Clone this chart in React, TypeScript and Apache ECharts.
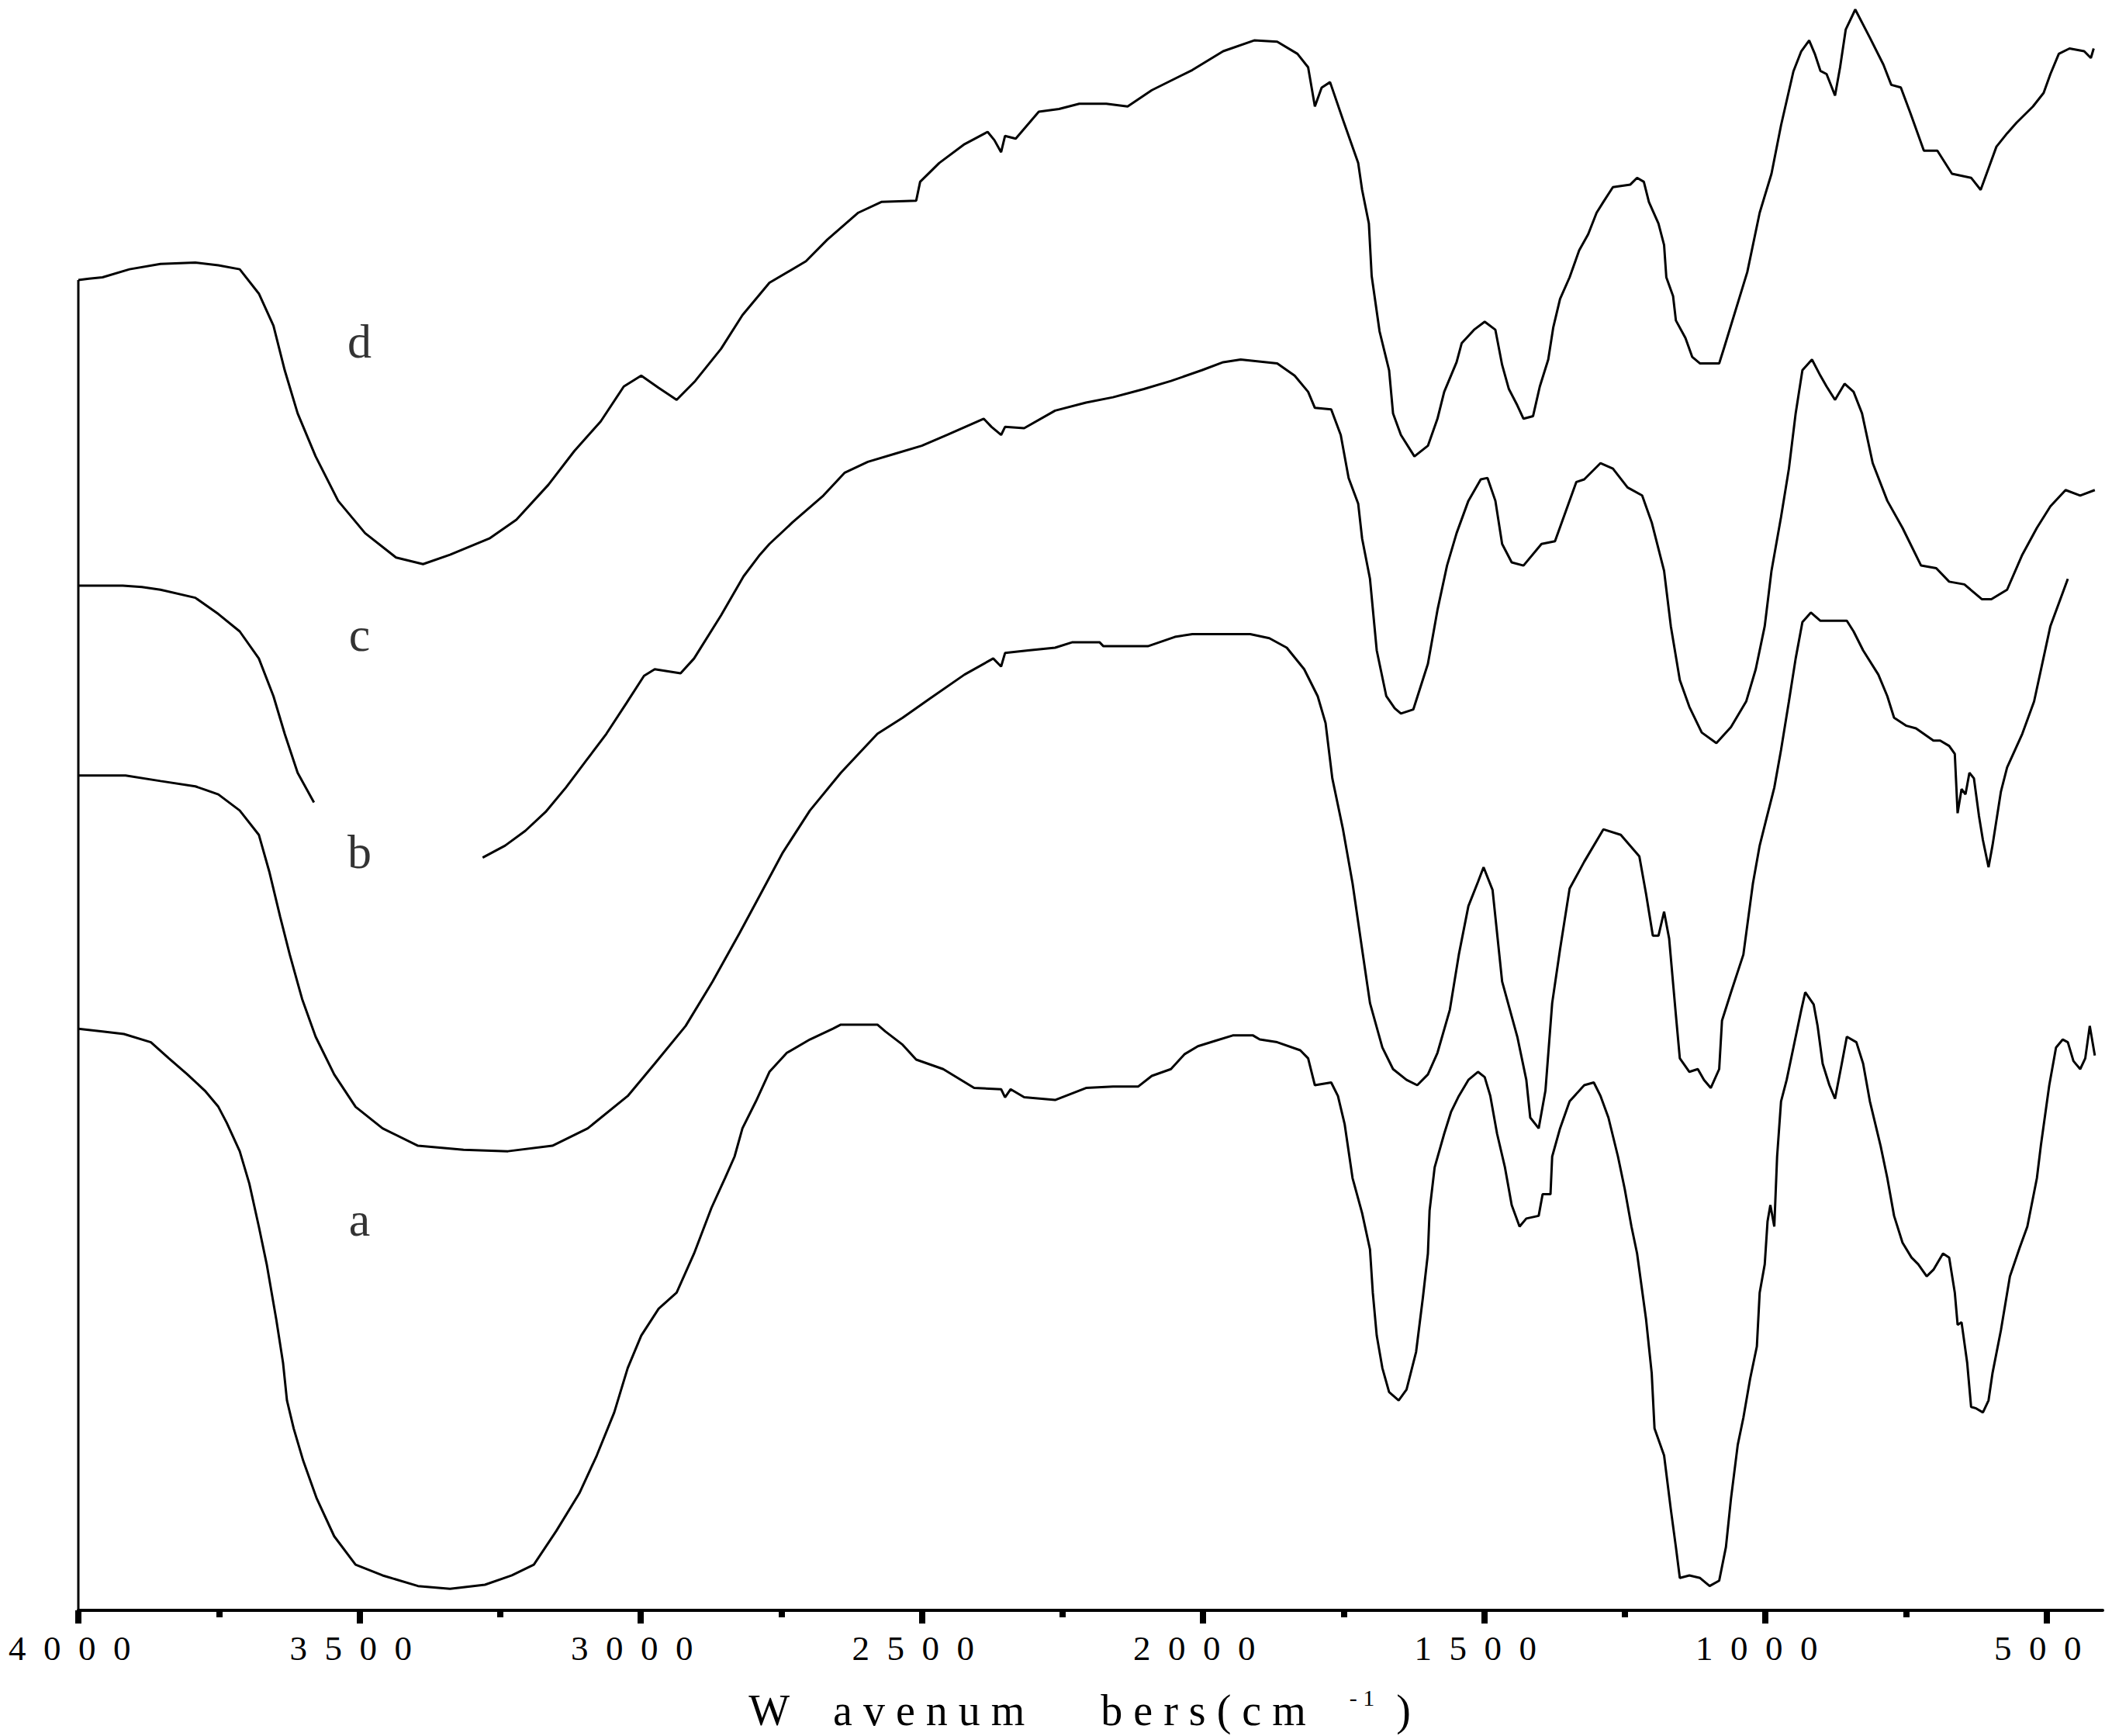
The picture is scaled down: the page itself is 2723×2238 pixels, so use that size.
import React, { useEffect, useRef } from 'react';
import * as echarts from 'echarts';

// Axis ticks (cm-1)
const majorTicks = [4000, 3500, 3000, 2500, 2000, 1500, 1000, 500];
const minorTicks = [3750, 3250, 2750, 2250, 1750, 1250, 750];

// Spectra: [wavenumber (cm-1), relative transmittance (a.u., offset)]
const curveD: [number, number][] = [
  [4000, 82.61], [3981, 82.69], [3957, 82.78], [3909, 83.28], [3854, 83.61], [3792, 83.7], [3751, 83.53], [3713, 83.28],
  [3679, 81.77], [3653, 79.77], [3633, 77.01], [3610, 74.33], [3578, 71.66], [3538, 68.9], [3490, 66.89], [3435, 65.38],
  [3387, 64.97], [3339, 65.55], [3269, 66.56], [3221, 67.73], [3164, 69.9], [3118, 71.99], [3071, 73.83], [3030, 76.0],
  [2999, 76.67], [2968, 75.92], [2936, 75.17], [2903, 76.34], [2857, 78.34], [2819, 80.43], [2771, 82.44], [2706, 83.78],
  [2668, 85.12], [2613, 86.79], [2572, 87.46], [2510, 87.54], [2503, 88.71], [2469, 89.88], [2424, 91.05], [2383, 91.81],
  [2371, 91.3], [2359, 90.55], [2352, 91.56], [2333, 91.39], [2292, 93.06], [2256, 93.23], [2220, 93.56], [2172, 93.56],
  [2134, 93.39], [2091, 94.4], [2019, 95.65], [1964, 96.82], [1909, 97.49], [1868, 97.41], [1832, 96.66], [1813, 95.82],
  [1801, 93.39], [1789, 94.56], [1774, 94.9], [1751, 92.56], [1724, 89.88], [1717, 88.21], [1705, 86.12], [1700, 82.86],
  [1686, 79.43], [1669, 77.01], [1662, 74.33], [1648, 72.99], [1624, 71.66], [1600, 72.32], [1583, 74.0], [1571, 75.67],
  [1549, 77.51], [1540, 78.68], [1518, 79.52], [1499, 80.02], [1480, 79.52], [1468, 77.34], [1456, 75.84], [1441, 74.83],
  [1430, 74.0], [1413, 74.16], [1401, 76.0], [1386, 77.67], [1377, 79.68], [1365, 81.44], [1348, 82.78], [1331, 84.45],
  [1315, 85.45], [1300, 86.79], [1288, 87.46], [1271, 88.38], [1240, 88.54], [1228, 88.96], [1216, 88.71], [1207, 87.46],
  [1190, 86.12], [1180, 84.78], [1176, 82.78], [1164, 81.61], [1159, 80.1], [1142, 79.01], [1130, 77.84], [1116, 77.43],
  [1082, 77.43], [1073, 78.43], [1032, 83.11], [1010, 86.79], [989, 89.21], [972, 92.22], [950, 95.57], [936, 96.82],
  [922, 97.49], [912, 96.66], [902, 95.6], [891, 95.4], [876, 94.06], [867, 95.82], [857, 98.16], [840, 99.41],
  [814, 97.66], [790, 95.99], [776, 94.73], [759, 94.57], [742, 92.98], [718, 90.64], [694, 90.64], [668, 89.21],
  [634, 88.96], [617, 88.21], [603, 89.55], [589, 90.89], [570, 91.72], [553, 92.39], [524, 93.39], [505, 94.23],
  [493, 95.4], [478, 96.66], [459, 96.99], [433, 96.82], [421, 96.4], [416, 96.99],
];

const curveCHigh: [number, number][] = [
  [4000, 63.63], [3921, 63.63], [3887, 63.55], [3854, 63.38], [3792, 62.88], [3751, 61.87], [3713, 60.79], [3679, 59.11],
  [3653, 56.77], [3633, 54.43], [3610, 52.01], [3581, 50.17],
];

const curveCLow: [number, number][] = [
  [3281, 46.74], [3241, 47.49], [3205, 48.41], [3169, 49.58], [3133, 51.09], [3097, 52.76], [3061, 54.43], [3025, 56.35],
  [2994, 58.03], [2975, 58.44], [2929, 58.19], [2905, 59.11], [2857, 61.79], [2817, 64.21], [2788, 65.55], [2771, 66.22],
  [2730, 67.56], [2675, 69.23], [2637, 70.65], [2596, 71.32], [2548, 71.82], [2500, 72.32], [2455, 72.99], [2390, 74.0],
  [2376, 73.49], [2359, 72.99], [2352, 73.49], [2318, 73.41], [2263, 74.5], [2208, 75.0], [2160, 75.33], [2105, 75.84],
  [2057, 76.34], [2002, 77.01], [1964, 77.51], [1933, 77.67], [1868, 77.43], [1837, 76.67], [1813, 75.67], [1801, 74.67],
  [1772, 74.58], [1755, 72.99], [1741, 70.32], [1724, 68.73], [1717, 66.56], [1703, 64.05], [1691, 59.61], [1674, 56.77],
  [1659, 56.02], [1648, 55.69], [1626, 55.94], [1600, 58.78], [1583, 62.12], [1566, 64.88], [1549, 66.89], [1528, 68.9],
  [1506, 70.23], [1494, 70.32], [1480, 68.9], [1468, 66.22], [1451, 65.08], [1430, 64.88], [1398, 66.22], [1374, 66.39],
  [1355, 68.23], [1336, 70.07], [1322, 70.23], [1293, 71.24], [1271, 70.9], [1245, 69.73], [1219, 69.23], [1202, 67.56],
  [1180, 64.55], [1168, 61.12], [1152, 57.77], [1135, 56.1], [1113, 54.51], [1087, 53.85], [1061, 54.85], [1034, 56.44],
  [1017, 58.44], [1001, 61.12], [989, 64.55], [972, 67.89], [958, 70.9], [946, 74.33], [934, 77.01], [917, 77.67],
  [902, 76.67], [891, 76.0], [876, 75.17], [859, 76.17], [843, 75.67], [828, 74.33], [809, 71.24], [783, 68.9],
  [756, 67.22], [723, 64.88], [696, 64.72], [673, 63.88], [646, 63.71], [615, 62.79], [598, 62.79], [570, 63.38],
  [543, 65.55], [517, 67.22], [493, 68.56], [466, 69.57], [440, 69.23], [414, 69.57],
];

const curveB: [number, number][] = [
  [4000, 51.84], [3916, 51.84], [3854, 51.5], [3792, 51.17], [3751, 50.67], [3713, 49.67], [3679, 48.16], [3660, 45.82],
  [3641, 43.06], [3624, 40.72], [3602, 37.96], [3578, 35.62], [3545, 33.28], [3507, 31.27], [3459, 29.93], [3396, 28.85],
  [3315, 28.6], [3236, 28.51], [3157, 28.85], [3094, 29.93], [3023, 31.94], [2975, 33.95], [2920, 36.29], [2872, 39.05],
  [2824, 42.06], [2788, 44.4], [2747, 47.07], [2699, 49.67], [2644, 52.01], [2579, 54.43], [2534, 55.43], [2486, 56.61],
  [2424, 58.11], [2373, 59.11], [2359, 58.61], [2352, 59.45], [2311, 59.61], [2263, 59.78], [2232, 60.12], [2184, 60.12],
  [2177, 59.87], [2098, 59.87], [2050, 60.45], [2019, 60.62], [1916, 60.62], [1882, 60.37], [1851, 59.78], [1820, 58.44],
  [1796, 56.77], [1782, 55.1], [1770, 51.67], [1751, 48.5], [1734, 45.15], [1717, 41.05], [1703, 37.71], [1681, 34.95],
  [1662, 33.61], [1638, 32.94], [1619, 32.61], [1600, 33.28], [1583, 34.62], [1561, 37.29], [1545, 40.72], [1528, 43.73],
  [1511, 45.23], [1501, 46.15], [1485, 44.73], [1468, 39.05], [1441, 35.62], [1425, 32.94], [1418, 30.6], [1403, 29.93],
  [1391, 32.27], [1379, 37.71], [1365, 41.05], [1348, 44.82], [1322, 46.49], [1288, 48.5], [1257, 48.16], [1224, 46.82],
  [1212, 44.48], [1200, 41.89], [1190, 41.89], [1180, 43.39], [1171, 41.72], [1159, 36.96], [1152, 34.28], [1135, 33.44],
  [1120, 33.61], [1109, 32.94], [1097, 32.44], [1082, 33.61], [1077, 36.62], [1061, 38.38], [1039, 40.72], [1022, 45.15],
  [1010, 47.49], [998, 49.16], [984, 51.09], [972, 53.43], [958, 56.44], [946, 59.11], [934, 61.37], [919, 61.96],
  [902, 61.45], [855, 61.45], [843, 60.79], [826, 59.61], [799, 58.11], [783, 56.77], [771, 55.43], [749, 54.93],
  [732, 54.77], [701, 54.01], [689, 54.01], [673, 53.68], [663, 53.18], [658, 49.5], [651, 51.0], [644, 50.67],
  [637, 52.01], [629, 51.67], [620, 49.33], [613, 47.83], [603, 46.15], [596, 47.49], [581, 50.84], [570, 52.34],
  [543, 54.43], [522, 56.44], [493, 61.12], [462, 64.05],
];

const curveA: [number, number][] = [
  [4000, 36.12], [3957, 35.95], [3919, 35.79], [3871, 35.28], [3839, 34.28], [3806, 33.28], [3775, 32.27], [3751, 31.27],
  [3736, 30.27], [3713, 28.51], [3696, 26.51], [3679, 23.83], [3665, 21.49], [3648, 18.06], [3636, 15.38], [3629, 13.04],
  [3617, 11.29], [3600, 9.28], [3576, 6.94], [3545, 4.6], [3507, 2.84], [3459, 2.17], [3396, 1.51], [3339, 1.34],
  [3277, 1.59], [3229, 2.17], [3190, 2.84], [3150, 4.93], [3109, 7.27], [3078, 9.62], [3047, 12.29], [3023, 15.05],
  [2999, 17.06], [2968, 18.73], [2936, 19.73], [2905, 22.16], [2874, 25.0], [2850, 26.84], [2833, 28.18], [2819, 29.93],
  [2795, 31.61], [2771, 33.44], [2740, 34.62], [2699, 35.45], [2658, 36.12], [2644, 36.37], [2579, 36.37], [2565, 35.95],
  [2534, 35.12], [2510, 34.2], [2462, 33.61], [2407, 32.44], [2359, 32.36], [2352, 31.86], [2342, 32.36], [2318, 31.86],
  [2263, 31.69], [2208, 32.44], [2160, 32.53], [2115, 32.53], [2091, 33.19], [2057, 33.61], [2033, 34.53], [2009, 35.03],
  [1978, 35.37], [1947, 35.7], [1911, 35.7], [1899, 35.45], [1868, 35.28], [1827, 34.78], [1813, 34.28], [1801, 32.61],
  [1772, 32.78], [1760, 31.94], [1748, 30.18], [1734, 26.84], [1717, 24.67], [1703, 22.41], [1698, 19.73], [1691, 17.06],
  [1681, 15.05], [1669, 13.55], [1652, 13.04], [1638, 13.71], [1621, 16.05], [1609, 19.4], [1600, 22.16], [1597, 24.83],
  [1588, 27.51], [1571, 29.6], [1559, 30.94], [1545, 31.94], [1528, 32.94], [1511, 33.44], [1499, 33.11], [1489, 31.94],
  [1477, 29.6], [1463, 27.51], [1451, 25.17], [1437, 23.83], [1425, 24.33], [1403, 24.5], [1396, 25.84], [1382, 25.84],
  [1379, 28.18], [1365, 29.93], [1348, 31.61], [1322, 32.61], [1305, 32.78], [1293, 31.94], [1279, 30.6], [1262, 28.18],
  [1250, 26.17], [1238, 23.83], [1228, 22.16], [1212, 18.06], [1202, 14.72], [1197, 11.29], [1180, 9.62], [1168, 6.27],
  [1159, 3.93], [1152, 2.01], [1135, 2.17], [1116, 2.01], [1099, 1.51], [1082, 1.84], [1070, 3.93], [1061, 6.94],
  [1049, 10.28], [1039, 11.96], [1027, 14.38], [1015, 16.39], [1010, 19.73], [1001, 21.49], [996, 24.16], [991, 25.17],
  [984, 23.83], [979, 28.18], [972, 31.61], [962, 32.94], [950, 34.95], [936, 37.29], [929, 38.38], [914, 37.63],
  [907, 36.29], [898, 33.95], [886, 32.61], [876, 31.77], [864, 33.95], [855, 35.62], [838, 35.28], [826, 33.95],
  [814, 31.61], [795, 28.85], [783, 26.84], [771, 24.5], [756, 22.83], [740, 21.91], [728, 21.49], [713, 20.74],
  [701, 21.15], [684, 22.16], [673, 21.91], [663, 19.73], [658, 17.73], [651, 17.89], [641, 15.38], [634, 12.63],
  [625, 12.54], [613, 12.29], [603, 13.04], [596, 14.72], [581, 17.39], [565, 20.74], [548, 22.48], [534, 23.83],
  [517, 26.84], [510, 28.85], [495, 32.61], [483, 34.95], [471, 35.45], [462, 35.28], [452, 34.11], [440, 33.61],
  [431, 34.28], [423, 36.29], [414, 34.45],
];

// Left frame line at 4000 cm-1 (from baseline up to the start of curve d)
const frameLine: [number, number][] = [[4000, 0], [4000, 82.61]];

// Curve labels: [wavenumber, value, text]
const curveLabels: [number, number, string][] = [
  [3500, 78.8, 'd'],
  [3500, 60.6, 'c'],
  [3500, 47.1, 'b'],
  [3500, 24.3, 'a'],
];

const FONT = 'Liberation Serif, DejaVu Serif, serif';
const NB = '\u00A0';

export default function App() {
  const ref = useRef<HTMLDivElement>(null);

  useEffect(() => {
    document.body.style.margin = '0';
    const chart = echarts.init(ref.current!, null, { renderer: 'svg' });

    const lineStyle = { color: '#000', width: 3 };
    const lineSeries = (data: [number, number][]) => ({
      type: 'line',
      data,
      showSymbol: false,
      symbol: 'none',
      clip: false,
      lineStyle,
      silent: true,
    });

    const titleMain = [
      'W', NB.repeat(4), 'a', NB, 'v', NB, 'e', NB, 'n', NB, 'u', NB, 'm', NB.repeat(7),
      'b', NB, 'e', NB, 'r', NB, 's', NB, '(', NB, 'c', NB, 'm', NB.repeat(4),
    ].join('');

    const axisCommon = {
      type: 'value',
      min: 400,
      max: 4000,
      inverse: true,
      position: 'bottom',
      splitLine: { show: false },
    };

    chart.setOption({
      animation: false,
      backgroundColor: '#fff',
      textStyle: { fontFamily: FONT },
      grid: { left: 101, right: 12, top: 0, bottom: 159, containLabel: false },
      xAxis: [
        {
          ...axisCommon,
          axisLine: { show: true, lineStyle: { color: '#000', width: 4 } },
          axisTick: {
            show: true,
            customValues: majorTicks,
            length: 17,
            lineStyle: { color: '#000', width: 8 },
          },
          axisLabel: {
            show: true,
            customValues: majorTicks,
            margin: 26,
            color: '#000',
            fontFamily: FONT,
            fontSize: 45,
            formatter: (v: number) => String(v).split('').join(NB + NB) + NB + NB,
          },
          name: `{m|${titleMain}}{s|-${NB}1}{m|${NB}${NB})${NB}${NB}}`,
          nameLocation: 'middle',
          nameGap: 97,
          nameTextStyle: {
            color: '#000',
            fontFamily: FONT,
            rich: {
              m: { fontSize: 56, fontFamily: FONT, color: '#000', lineHeight: 60, verticalAlign: 'bottom' },
              s: { fontSize: 30, fontFamily: FONT, color: '#000', lineHeight: 20, verticalAlign: 'top' },
            },
          },
        },
        {
          ...axisCommon,
          axisLine: { show: false },
          axisTick: {
            show: true,
            customValues: minorTicks,
            length: 9,
            lineStyle: { color: '#000', width: 8 },
          },
          axisLabel: { show: false },
        },
      ],
      yAxis: { type: 'value', min: 0, max: 100, show: false },
      series: [
        lineSeries(frameLine),
        lineSeries(curveD),
        lineSeries(curveCHigh),
        lineSeries(curveCLow),
        lineSeries(curveB),
        lineSeries(curveA),
        {
          type: 'scatter',
          data: curveLabels,
          symbolSize: 1,
          itemStyle: { color: 'rgba(0,0,0,0)' },
          silent: true,
          label: {
            show: true,
            position: 'inside',
            formatter: (p: any) => p.value[2],
            color: '#000',
            fontFamily: FONT,
            fontSize: 62,
          },
        },
      ],
    });

    return () => chart.dispose();
  }, []);

  return <div ref={ref} style={{ width: 2723, height: 2238, background: '#fff' }} />;
}
